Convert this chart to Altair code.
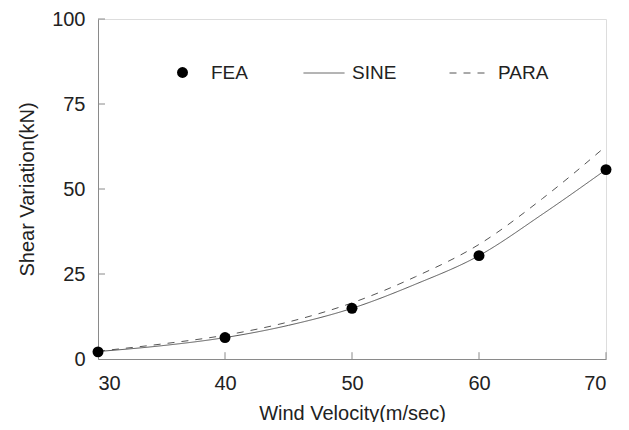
import altair as alt
import pandas as pd

# FEA points
fea_x = [30, 40, 50, 60, 70]
fea_y = [2.1, 6.3, 14.9, 30.4, 55.7]

# Curves
curve_x = [30, 35, 40, 45, 50, 55, 60, 65, 70]
sine_y = [2.2, 3.9, 6.3, 9.9, 14.9, 22.0, 30.4, 42.6, 55.7]
para_y = [2.3, 4.4, 7.0, 10.9, 16.5, 24.2, 33.7, 47.2, 62.6]

x_ticks = [30, 40, 50, 60, 70]
y_ticks = [0, 25, 50, 75, 100]

FONT = "Liberation Sans"
AX = "#8a8a8a"

pts = pd.DataFrame({"x": fea_x, "y": fea_y, "kind": ["FEA"] * len(fea_x)})
lines = pd.DataFrame({
    "x": curve_x * 2,
    "y": sine_y + para_y,
    "series": ["SINE"] * len(curve_x) + ["PARA"] * len(curve_x),
})
xt = pd.DataFrame({"v": x_ticks[1:]})
yt = pd.DataFrame({"v": y_ticks[1:]})

xscale = alt.Scale(domain=[30, 70], nice=False, zero=False)
yscale = alt.Scale(domain=[0, 100], nice=False)

xaxis = alt.Axis(values=x_ticks, tickSize=0, labelPadding=14, labelFontSize=20,
                 labelFont=FONT, labelColor="#222", domainColor=AX, grid=False,
                 title="Wind Velocity(m/sec)", titleFontSize=20, titleFont=FONT,
                 titleFontWeight="normal", titleColor="#222", titlePadding=10)
yaxis = alt.Axis(values=y_ticks, tickSize=0, labelPadding=13, labelFontSize=20,
                 labelFont=FONT, labelColor="#222", domainColor=AX, grid=False,
                 title="Shear Variation(kN)", titleFontSize=20, titleFont=FONT,
                 titleFontWeight="normal", titleColor="#222", titlePadding=14)

line_layer = alt.Chart(lines).mark_line(interpolate="monotone", strokeWidth=1, color="#555").encode(
    x=alt.X("x:Q", scale=xscale, axis=xaxis),
    y=alt.Y("y:Q", scale=yscale, axis=yaxis),
    strokeDash=alt.StrokeDash(
        "series:N",
        scale=alt.Scale(domain=["SINE", "PARA"], range=[[1, 0], [7, 7]]),
        legend=alt.Legend(orient="none", legendX=205, legendY=33, direction="horizontal",
                          title=None, symbolType="stroke", symbolSize=1681,
                          symbolStrokeColor="#555", symbolStrokeWidth=1,
                          labelFontSize=19, labelFont=FONT, labelColor="#222",
                          labelOffset=7, columnPadding=50),
    ),
)

pt_layer = alt.Chart(pts).mark_point(filled=True, size=120, color="black", opacity=1).encode(
    x=alt.X("x:Q", scale=xscale),
    y=alt.Y("y:Q", scale=yscale),
    shape=alt.Shape(
        "kind:N",
        scale=alt.Scale(domain=["FEA"], range=["circle"]),
        legend=alt.Legend(orient="none", legendX=75, legendY=44, title=None,
                          symbolSize=120, symbolFillColor="black", symbolStrokeColor="black",
                          labelFontSize=19, labelFont=FONT, labelColor="#222",
                          labelOffset=19),
    ),
)

xtick_layer = alt.Chart(xt).mark_rule(color=AX, strokeWidth=1).encode(
    x=alt.X("v:Q", scale=xscale),
    y=alt.datum(0, scale=yscale),
    y2=alt.datum(2.0),
)
ytick_layer = alt.Chart(yt).mark_rule(color=AX, strokeWidth=1).encode(
    y=alt.Y("v:Q", scale=yscale),
    x=alt.datum(30, scale=xscale),
    x2=alt.datum(30.55),
)

chart = alt.layer(xtick_layer, ytick_layer, line_layer, pt_layer).properties(
    width=508, height=340,
    autosize=alt.AutoSizeParams(type="none"),
    padding={"left": 90, "top": 11, "right": 15, "bottom": 63},
).configure_view(stroke=None).configure(background="white")

chart.save("out.html", embed_options={"renderer": "svg", "actions": False})
